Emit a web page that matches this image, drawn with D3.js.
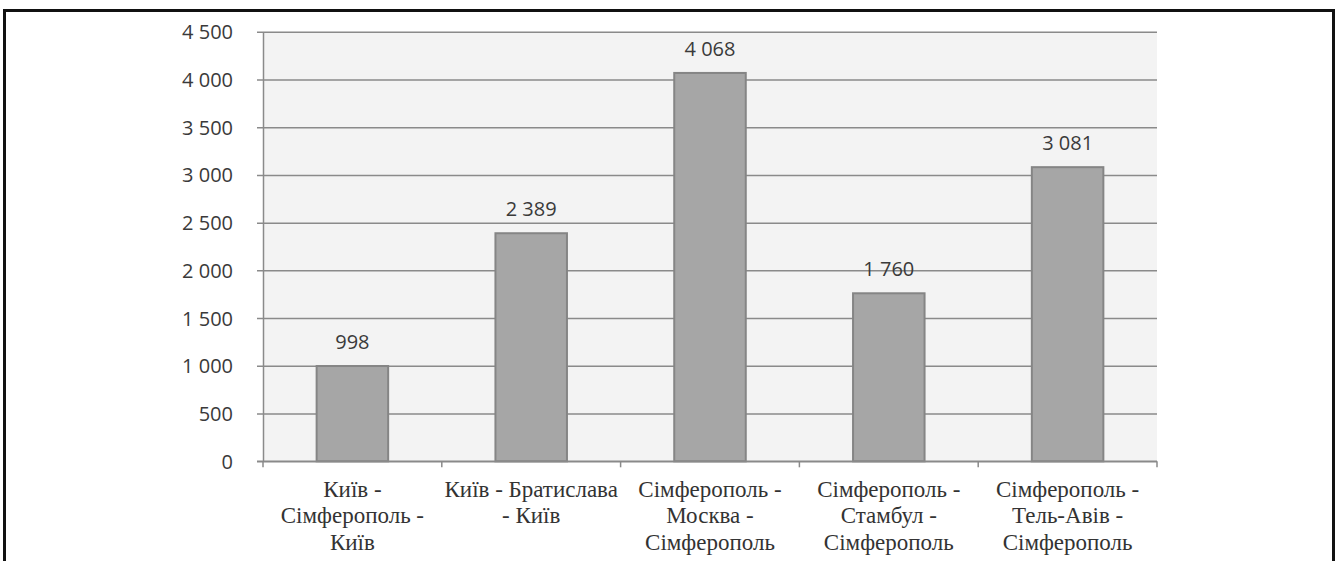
<!DOCTYPE html>
<html>
<head>
<meta charset="utf-8">
<script src="https://cdn.jsdelivr.net/npm/d3@7"></script>
<style>
  html, body { margin: 0; padding: 0; background: #ffffff; }
  svg { display: block; }
  .num { font-family: "Open Sans", sans-serif; font-size: 20px; }
</style>
</head>
<body>
<div id="chart"></div>
<script>
// Routes (each label split into display lines) and their values
const routes = [
  ["Київ -", "Сімферополь -", "Київ"],
  ["Київ - Братислава", "- Київ"],
  ["Сімферополь -", "Москва -", "Сімферополь"],
  ["Сімферополь -", "Стамбул -", "Сімферополь"],
  ["Сімферополь -", "Тель-Авів -", "Сімферополь"]
];
const values = [998, 2389, 4068, 1760, 3081];
const yTicks = [0, 500, 1000, 1500, 2000, 2500, 3000, 3500, 4000, 4500];

const W = 1336, H = 561;
const plot = { left: 263, right: 1157, top: 31.7, bottom: 461.3 };

// Pick the first serif face that actually carries Cyrillic glyphs
const ctx = document.createElement("canvas").getContext("2d");
function available(name, sample) {
  ctx.font = "40px monospace";
  const w0 = ctx.measureText(sample).width;
  ctx.font = `40px "${name}", monospace`;
  return Math.abs(ctx.measureText(sample).width - w0) > 0.5;
}
const serifCandidates = ["Liberation Serif", "DejaVu Serif", "Noto Serif", "Tinos", "Times New Roman", "FreeSerif"];
const catFace = serifCandidates.find(f => available(f, "Сімферополь")) || "Open Sans";
const catWeight = catFace === "Open Sans" ? 300 : 400;
// Size the category font so the widest single-line label spans ~174px
ctx.font = `${catWeight} 100px "${catFace}"`;
const refWidth = ctx.measureText("Київ - Братислава").width;
const catSize = Math.max(16, Math.min(23, 100 * 174 / refWidth));

const svg = d3.select("#chart").append("svg")
  .attr("width", W).attr("height", H);

// Outer frame (open at the bottom edge of the page)
svg.append("rect")
  .attr("x", 4.5).attr("y", 10.5)
  .attr("width", 1329).attr("height", 600)
  .attr("fill", "none").attr("stroke", "#111").attr("stroke-width", 3);

const fmt = v => d3.format(",")(v).replace(/,/g, " ");

const x = d3.scaleBand()
  .domain(d3.range(values.length))
  .range([plot.left, plot.right])
  .paddingInner(0.6).paddingOuter(0.3);

const xCat = d3.scaleBand()
  .domain(d3.range(values.length))
  .range([plot.left, plot.right]);

const y = d3.scaleLinear()
  .domain([0, 4500])
  .range([plot.bottom, plot.top]);

// Plot background
svg.append("rect")
  .attr("x", plot.left).attr("y", plot.top)
  .attr("width", plot.right - plot.left).attr("height", plot.bottom - plot.top)
  .attr("fill", "#f3f3f3");

// Horizontal gridlines with short outside ticks
const yAxis = d3.axisLeft(y)
  .tickValues(yTicks)
  .tickSize(-(plot.right - plot.left))
  .tickSizeOuter(0)
  .tickFormat(fmt);

const gy = svg.append("g")
  .attr("transform", `translate(${plot.left},0)`)
  .call(yAxis)
  .attr("font-family", null).attr("font-size", null);
gy.select(".domain").attr("stroke", "#8a8a8a").attr("stroke-width", 1.5);
gy.selectAll(".tick line")
  .attr("x1", -6)
  .attr("stroke", "#8a8a8a").attr("stroke-width", 1.5);
gy.selectAll(".tick text")
  .attr("class", "num")
  .attr("x", -30)
  .attr("dy", "0.35em")
  .attr("fill", "#3a3a3a");

// Bars
svg.append("g").selectAll("rect")
  .data(values)
  .join("rect")
  .attr("x", (d, i) => x(i))
  .attr("y", d => y(d))
  .attr("width", x.bandwidth())
  .attr("height", d => y(0) - y(d))
  .attr("fill", "#a6a6a6")
  .attr("stroke", "#858585")
  .attr("stroke-width", 2);

// Value labels
svg.append("g").selectAll("text")
  .data(values)
  .join("text")
  .attr("class", "num")
  .attr("x", (d, i) => x(i) + x.bandwidth() / 2)
  .attr("y", d => y(d) - 17)
  .attr("text-anchor", "middle")
  .attr("fill", "#3a3a3a")
  .text(d => fmt(d));

// Category axis: baseline and boundary ticks
const gx = svg.append("g");
gx.append("line")
  .attr("x1", plot.left - 6).attr("x2", plot.right)
  .attr("y1", y(0)).attr("y2", y(0))
  .attr("stroke", "#8a8a8a").attr("stroke-width", 1.5);
const bounds = d3.range(values.length).map(i => xCat(i)).concat([plot.right]);
gx.selectAll("line.tick")
  .data(bounds)
  .join("line")
  .attr("class", "tick")
  .attr("x1", d => d).attr("x2", d => d)
  .attr("y1", y(0)).attr("y2", y(0) + 6)
  .attr("stroke", "#8a8a8a").attr("stroke-width", 1.5);

// Category labels
const lab = gx.selectAll("text.cat")
  .data(routes)
  .join("text")
  .attr("class", "cat")
  .attr("text-anchor", "middle")
  .attr("fill", "#333333")
  .style("font-family", `"${catFace}", serif`)
  .style("font-weight", catWeight)
  .style("font-size", `${catSize}px`);
lab.selectAll("tspan")
  .data((d, i) => d.map(line => ({ line, i })))
  .join("tspan")
  .attr("x", d => xCat(d.i) + xCat.bandwidth() / 2)
  .attr("y", (d, j) => 496.7 + j * 26.5)
  .text(d => d.line);
</script>
</body>
</html>
